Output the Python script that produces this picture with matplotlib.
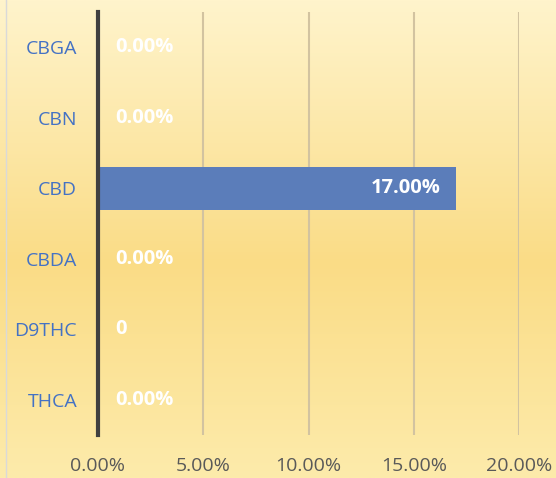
import numpy as np
import matplotlib
matplotlib.use("Agg")
import matplotlib.pyplot as plt
from matplotlib.colors import LinearSegmentedColormap

categories = ["THCA", "D9THC", "CBDA", "CBD", "CBN", "CBGA"]
values = [0.0, 0.0, 0.0, 17.0, 0.0, 0.0]
labels = ["0.00%", "0", "0.00%", "17.00%", "0.00%", "0.00%"]
xticks = [0, 5, 10, 15, 20]
xticklabels = ["0.00%", "5.00%", "10.00%", "15.00%", "20.00%"]

plt.rcParams['font.family'] = ['Open Sans', 'DejaVu Sans']

fig = plt.figure(figsize=(5.56, 4.78), dpi=100)

# background gradient
bg = fig.add_axes([0, 0, 1, 1], zorder=-10)
cmap = LinearSegmentedColormap.from_list(
    "bg", [(0.0, "#FFF4CC"), (0.55, "#FADC86"), (1.0, "#FDEBAB")])
grad = np.linspace(0, 1, 256).reshape(-1, 1)
bg.imshow(grad, aspect="auto", cmap=cmap, extent=[0, 1, 0, 1], origin="upper")
bg.axvline(0.011, color="#D9D9D9", lw=1)
bg.set_xlim(0, 1); bg.set_ylim(0, 1)
bg.axis("off")

W, H = 556, 478
left, right = 98, 519
top, bottom = 12, 435
ax = fig.add_axes([left / W, 1 - bottom / H, (right - left) / W, (bottom - top) / H])
ax.patch.set_alpha(0)

y = np.arange(len(categories))
ax.barh(y, values, height=0.61, color="#5B7DBA", zorder=3)

ax.set_xlim(0, 20)
ax.set_ylim(-0.5, len(categories) - 0.5)
ax.set_xticks(xticks)
ax.set_xticklabels(xticklabels, color="#595959", fontsize=14)
ax.set_yticks(y)
ax.set_yticklabels(categories, color="#4472C4", fontsize=14)
ax.tick_params(axis="x", length=0, pad=16)
ax.tick_params(axis="y", length=0, pad=15)
ax.xaxis.grid(True, color="#D2C3A0", lw=1.5, zorder=1)
for s in ["top", "right", "bottom"]:
    ax.spines[s].set_visible(False)
ax.spines["left"].set_color("#404040")
ax.spines["left"].set_linewidth(3)
ax.spines["left"].set_zorder(5)

for yi, v, lab in zip(y, values, labels):
    if v > 0:
        ax.text(v - 0.7, yi, lab, color="white", fontsize=14.5, fontweight="bold",
                ha="right", va="center", zorder=6)
    else:
        ax.text(0.8, yi, lab, color="white", fontsize=14.5, fontweight="bold",
                ha="left", va="center", zorder=6)

fig.savefig("out.png", dpi=100)
